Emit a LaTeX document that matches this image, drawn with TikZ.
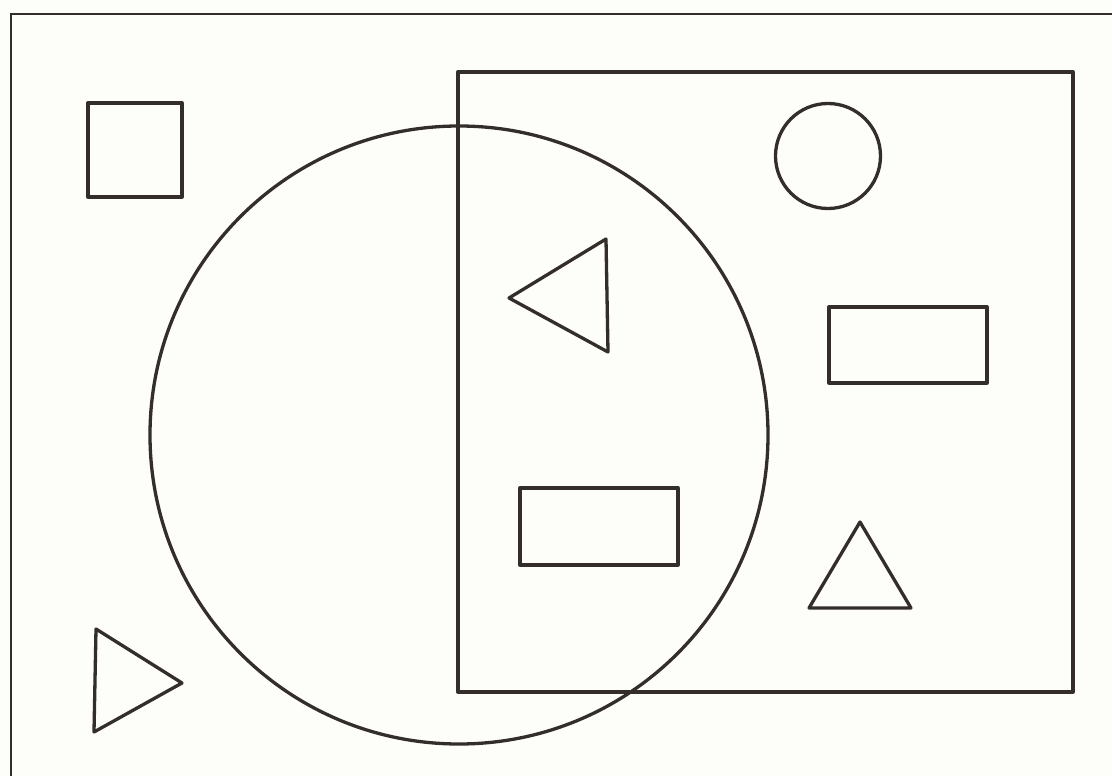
\documentclass[tikz,border=0pt]{standalone}
\definecolor{ink}{RGB}{52,46,42}
\definecolor{paper}{RGB}{253,253,250}
\begin{document}
\begin{tikzpicture}[x=1pt,y=-1pt,shape line/.style={draw=ink,line width=3.3pt,line join=round}]
\fill[paper] (0,0) rectangle (1112,776);
\useasboundingbox (0,0) rectangle (1112,776);
\begin{scope}
\clip (0,0) rectangle (1112,776);
% outer frame (cut off at right and bottom)
\draw[draw=ink,line width=2.4pt] (11,800) -- (11,14) -- (1130,14);
\end{scope}
% square
\draw[shape line] (88,103) rectangle (182,197);
% big circle
\draw[shape line] (459,435) circle[radius=309];
% big rectangle
\draw[shape line] (458,72) rectangle (1073,692);
% small circle
\draw[shape line] (828,156) circle[radius=52.5];
% left-pointing triangle
\draw[shape line] (509,298) -- (606,239) -- (608,352) -- cycle;
% rectangles
\draw[shape line] (829,307) rectangle (987,383);
\draw[shape line] (520,488) rectangle (678,565);
% upward triangle
\draw[shape line] (860,522) -- (911,608) -- (809,608) -- cycle;
% right-pointing triangle
\draw[shape line] (96,629) -- (182,683) -- (94,732) -- cycle;
\end{tikzpicture}
\end{document}
